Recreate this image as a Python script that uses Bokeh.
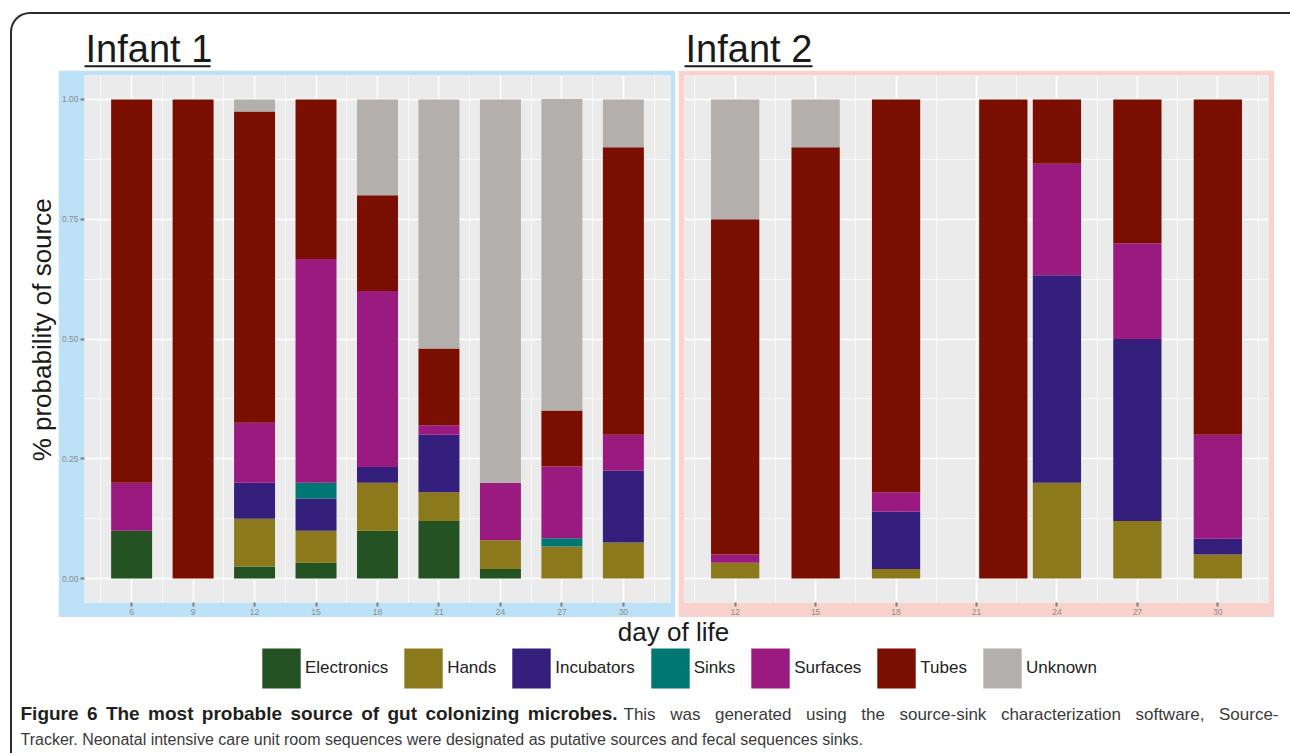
import math
from bokeh.plotting import figure
from bokeh.models import (ColumnDataSource, FixedTicker, PrintfTickFormatter, Range1d,
                          Label, Legend, LegendItem, Spacer)
from bokeh.layouts import row, column
from bokeh.core.properties import value
from bokeh.embed import file_html
from bokeh.resources import INLINE

# ---------------- data ----------------
sources = ["Electronics", "Hands", "Incubators", "Sinks", "Surfaces", "Tubes", "Unknown"]
colors = ["#245223", "#8B791B", "#351F7C", "#007772", "#9B1A7F", "#7A0E00", "#B3AFAC"]

inf1_days = [6, 9, 12, 15, 18, 21, 24, 27, 30]
inf1_electronics = [0.10, 0.00, 0.025, 0.033, 0.10, 0.12, 0.02, 0.00, 0.00]
inf1_hands       = [0.00, 0.00, 0.100, 0.067, 0.10, 0.06, 0.06, 0.067, 0.075]
inf1_incubators  = [0.00, 0.00, 0.075, 0.067, 0.033, 0.12, 0.00, 0.00, 0.15]
inf1_sinks       = [0.00, 0.00, 0.000, 0.033, 0.00, 0.00, 0.00, 0.017, 0.00]
inf1_surfaces    = [0.10, 0.00, 0.125, 0.467, 0.367, 0.02, 0.12, 0.15, 0.075]
inf1_tubes       = [0.80, 1.00, 0.650, 0.333, 0.20, 0.16, 0.00, 0.117, 0.60]
inf1_unknown     = [0.00, 0.00, 0.025, 0.000, 0.20, 0.52, 0.80, 0.65, 0.10]

inf2_days = [12, 15, 18, 22, 24, 27, 30]
inf2_electronics = [0.00, 0.00, 0.00, 0.00, 0.00, 0.00, 0.00]
inf2_hands       = [0.033, 0.00, 0.02, 0.00, 0.20, 0.12, 0.05]
inf2_incubators  = [0.00, 0.00, 0.12, 0.00, 0.433, 0.38, 0.033]
inf2_sinks       = [0.00, 0.00, 0.00, 0.00, 0.00, 0.00, 0.00]
inf2_surfaces    = [0.017, 0.00, 0.04, 0.00, 0.233, 0.20, 0.217]
inf2_tubes       = [0.70, 0.90, 0.82, 1.00, 0.134, 0.30, 0.70]
inf2_unknown     = [0.25, 0.10, 0.00, 0.00, 0.00, 0.00, 0.00]

inf1_ticks = [6, 9, 12, 15, 18, 21, 24, 27, 30]
inf2_ticks = [12, 15, 18, 21, 24, 27, 30]
y_ticks = [0.0, 0.25, 0.5, 0.75, 1.0]
y_minor = [0.125, 0.375, 0.625, 0.875]

caption_bold = "Figure 6 The most probable source of gut colonizing microbes."
caption_rest1 = "This was generated using the source-sink characterization software, Source-"
caption_line2 = ("Tracker. Neonatal intensive care unit room sequences were designated as "
                 "putative sources and fecal sequences sinks.")

inf1_data = dict(zip(sources, [inf1_electronics, inf1_hands, inf1_incubators, inf1_sinks,
                               inf1_surfaces, inf1_tubes, inf1_unknown]))
inf2_data = dict(zip(sources, [inf2_electronics, inf2_hands, inf2_incubators, inf2_sinks,
                               inf2_surfaces, inf2_tubes, inf2_unknown]))

FONT = "Liberation Sans"
BLUE = "#BDE1F6"
PINK = "#F9D2CD"
PANEL_H = 547
BASE_FIX = 0.36  # baseline correction (em) for alphabetic text in the svg backend


def panel(days, data, ticks, bar_width, w, left_border, right_border, bg, show_y):
    src = ColumnDataSource(dict(day=days, **{s: data[s] for s in sources}))
    lo = min(days) - bar_width / 2
    hi = max(days) + bar_width / 2
    pad = (hi - lo) * 0.05
    p = figure(width=w, height=PANEL_H, x_range=Range1d(lo - pad, hi + pad),
               y_range=Range1d(-0.05, 1.05), output_backend="svg", toolbar_location=None,
               min_border_left=left_border, min_border_right=right_border,
               min_border_top=5, min_border_bottom=15,
               background_fill_color="#EBEBEB", border_fill_color=bg,
               outline_line_color=None)
    p.vbar_stack(sources, x="day", width=bar_width, fill_color=colors, line_color=None,
                 source=src)
    step = ticks[1] - ticks[0]
    xminor = [ticks[0] - step / 2] + [t + step / 2 for t in ticks]
    xt = FixedTicker(ticks=ticks, minor_ticks=xminor)
    yt = FixedTicker(ticks=y_ticks, minor_ticks=y_minor)
    p.xaxis.ticker = xt
    p.yaxis.ticker = yt
    p.xgrid.ticker = xt
    p.ygrid.ticker = yt
    for g in (p.xgrid[0], p.ygrid[0]):
        g.grid_line_color = "white"
        g.grid_line_width = 1.6
        g.minor_grid_line_color = "white"
        g.minor_grid_line_width = 0.8
        g.minor_grid_line_alpha = 0.8
    for ax in (p.xaxis[0], p.yaxis[0]):
        ax.axis_line_color = None
        ax.major_tick_line_color = "#7f7f7f"
        ax.major_tick_line_width = 2
        ax.major_tick_out = 4
        ax.major_tick_in = 0
        ax.minor_tick_line_color = None
        ax.major_label_text_color = "#8c8c8c"
        ax.major_label_text_font = FONT
        ax.major_label_text_font_size = "8.5px"
        ax.major_label_standoff = 2
    p.yaxis.formatter = PrintfTickFormatter(format="%.2f")
    if not show_y:
        p.yaxis.visible = False
    return p


def canvas(w, h, transparent=False):
    p = figure(width=w, height=h, x_range=Range1d(0, w), y_range=Range1d(0, h),
               output_backend="svg", toolbar_location=None, min_border=0,
               x_axis_location=None, y_axis_location=None, outline_line_color=None)
    p.grid.visible = False
    if transparent:
        p.border_fill_alpha = 0
        p.background_fill_alpha = 0
    return p


def baseline(y, size):
    return y + BASE_FIX * size


# Arial / Liberation Sans advance widths (per 1000 em) for caption justification
REG_W = dict(a=556, b=556, c=500, d=556, e=556, f=278, g=556, h=556, i=222, j=222, k=500,
             l=222, m=833, n=556, o=556, p=556, q=556, r=333, s=500, t=278, u=556, v=500,
             w=722, x=500, y=500, z=500, T=611, S=667, N=722)
REG_W.update({",": 278, "-": 333, ".": 278, " ": 278})
BOLD_W = dict(a=556, b=611, c=556, d=611, e=556, f=333, g=611, h=611, i=278, l=278, m=889,
              n=611, o=611, p=611, r=389, s=556, t=333, u=611, z=500, F=611, T=611)
BOLD_W.update({"6": 556, ".": 278, " ": 278})


def word_w(word, table, size):
    return sum(table.get(ch, 556) for ch in word) * size / 1000.0


def justify(words, table, size, x0, x1):
    total = sum(word_w(wd, table, size) for wd in words)
    gap = (x1 - x0 - total) / (len(words) - 1)
    xs, cx = [], x0
    for wd in words:
        xs.append(cx)
        cx += word_w(wd, table, size) + gap
    return xs


# ---------------- titles ----------------
W = 1278
title_fig = canvas(W, 56, transparent=True)
for tx, txt, ul in [(73, "Infant 1", (72, 198)), (673, "Infant 2", (672, 800))]:
    title_fig.add_layout(Label(x=tx, y=baseline(7.5, 38), text=txt, text_font=FONT,
                               text_font_size="38px", text_baseline="alphabetic",
                               text_color="#1a1a1a"))
    title_fig.segment(x0=[ul[0]], y0=[4.2], x1=[ul[1]], y1=[4.2], line_color="#1a1a1a",
                      line_width=2)

# ---------------- panels ----------------
ylab_fig = canvas(46, PANEL_H)
ylab_fig.add_layout(Label(x=29, y=PANEL_H - (334 - 70), text="% probability of source",
                          angle=math.pi / 2, text_align="center", text_baseline="middle",
                          text_font=FONT, text_font_size="26px", text_color="#1a1a1a"))

p1 = panel(inf1_days, inf1_data, inf1_ticks, 2.0, 617, 26, 5, BLUE, True)
p2 = panel(inf2_days, inf2_data, inf2_ticks, 1.8, 596, 6, 6, PINK, False)

panels = row(ylab_fig, p1, Spacer(width=3, height=PANEL_H), p2,
             Spacer(width=W - 46 - 617 - 3 - 596 - 1, height=PANEL_H))

# ---------------- x label + legend ----------------
LEG_H = 78
leg_fig = canvas(W, LEG_H)
leg_fig.add_layout(Label(x=661, y=baseline(LEG_H - (641 - 617), 26), text="day of life",
                         text_align="center", text_baseline="alphabetic", text_font=FONT,
                         text_font_size="26px", text_color="#1a1a1a"))
nan = float("nan")
rends = [leg_fig.vbar(x=[nan], top=[nan], width=1, fill_color=c, line_color=None)
         for c in colors]
legend = Legend(items=[LegendItem(label=s, renderers=[r]) for s, r in zip(sources, rends)],
                orientation="horizontal", location=(245, 2), glyph_width=48, glyph_height=50,
                label_standoff=0, spacing=11, padding=0, margin=0, border_line_color=None,
                background_fill_alpha=0, label_text_font=FONT, label_text_font_size="17px",
                label_text_color="#222222")
leg_fig.add_layout(legend, "center")

# ---------------- caption ----------------
CAP_H = 58
cap_fig = canvas(W, CAP_H)
BOLD_SIZE = 19
REG1_SIZE = 17
REG_SIZE = 16
bold_words = caption_bold.split(" ")
reg_words = caption_rest1.split(" ")
xs_b = justify(bold_words, BOLD_W, BOLD_SIZE, 8, 605)
xs_r = justify(reg_words, REG_W, REG1_SIZE, 611, 1266)
y1 = CAP_H - (720 - 695)
cap_fig.text(x=xs_b, y=[baseline(y1, BOLD_SIZE)] * len(xs_b), text=bold_words,
             text_font=value(FONT), text_font_style="bold", text_font_size=f"{BOLD_SIZE}px",
             text_baseline="alphabetic", text_color="#231f20")
cap_fig.text(x=xs_r, y=[baseline(y1, REG1_SIZE)] * len(xs_r), text=reg_words,
             text_font=value(FONT), text_font_size=f"{REG1_SIZE}px",
             text_baseline="alphabetic", text_color="#3a3a3a")
cap_fig.add_layout(Label(x=8, y=baseline(CAP_H - (745 - 695), REG_SIZE), text=caption_line2,
                         text_font=FONT, text_font_size=f"{REG_SIZE}px",
                         text_baseline="alphabetic", text_color="#3a3a3a"))

layout = column(title_fig, panels, leg_fig, cap_fig, margin=(12, 0, 0, 10),
                styles={"border-top": "2px solid #2b2b2b", "border-left": "2px solid #2b2b2b",
                        "border-top-left-radius": "20px"})

open("out.html", "w").write(file_html(layout, INLINE))
